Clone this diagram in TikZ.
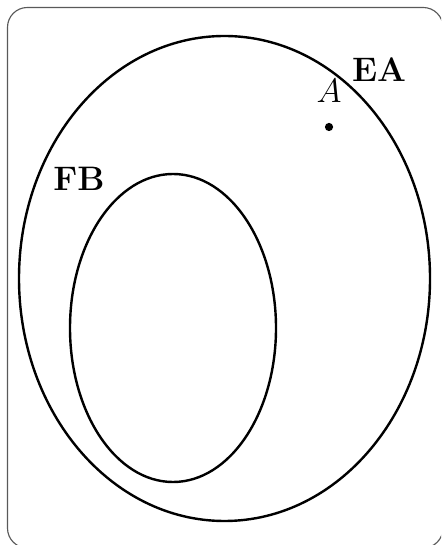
\documentclass[tikz,border=0pt]{standalone}
\usetikzlibrary{shapes.geometric}
\begin{document}
\begin{tikzpicture}[x=0.353pt,y=-0.353pt,
  setline/.style={line width=0.85pt,black},
  lbl/.style={inner sep=0pt,font=\fontsize{12}{14}\selectfont}]
\useasboundingbox (0,0) rectangle (441,545);
\begin{scope}
\clip (0,0) rectangle (441,545);
\draw[gray!70!black,line width=0.4pt,rounded corners=7pt] (7.5,7.5) rectangle (443,548);
\end{scope}
\node[setline,draw,ellipse,minimum width=411*0.353pt,minimum height=485*0.353pt,inner sep=0pt] (EA) at (224.5,278.5) {};
\node[setline,draw,ellipse,minimum width=206*0.353pt,minimum height=308*0.353pt,inner sep=0pt] (FB) at (173,328) {};
\node[lbl,font=\fontsize{12}{14}\selectfont\bfseries] (ealbl) at (379,70) {EA};
\node[lbl,font=\fontsize{12}{14}\selectfont\bfseries] (fblbl) at (79,178.5) {FB};
\node[lbl] (albl) at (329,91) {$A$};
\fill (329,127) circle[radius=1.45pt] coordinate (pA);
\end{tikzpicture}
\end{document}
